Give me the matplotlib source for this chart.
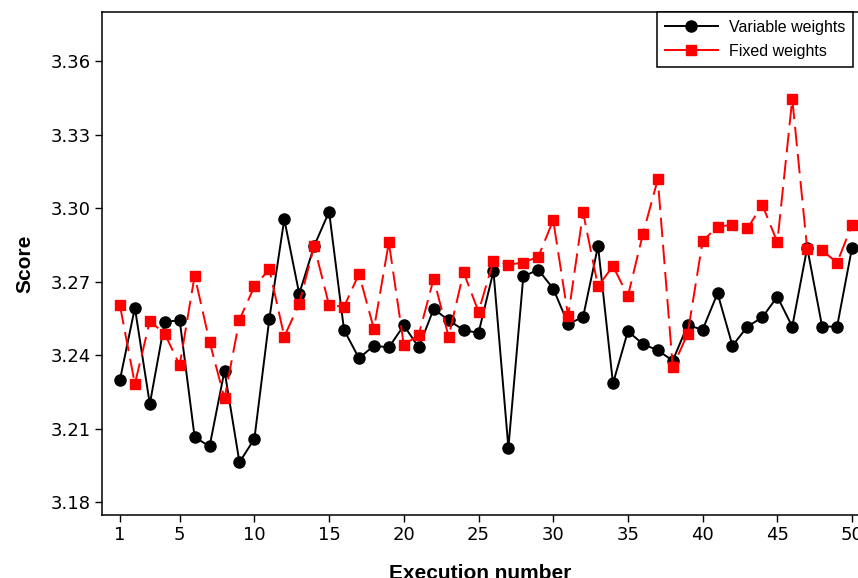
import matplotlib
matplotlib.use('Agg')
import matplotlib.pyplot as plt
from matplotlib.lines import Line2D

# execution numbers 1..50
runs = list(range(1, 51))

variable_w = [3.2298, 3.2593, 3.2200, 3.2535, 3.2542, 3.2065, 3.2027, 3.2336, 3.1962, 3.2058,
              3.2548, 3.2954, 3.2650, 3.2845, 3.2985, 3.2502, 3.2387, 3.2438, 3.2431, 3.2521,
              3.2431, 3.2588, 3.2542, 3.2502, 3.2490, 3.2742, 3.2022, 3.2721, 3.2748, 3.2671,
              3.2527, 3.2555, 3.2845, 3.2284, 3.2497, 3.2445, 3.2419, 3.2377, 3.2522, 3.2503,
              3.2652, 3.2438, 3.2516, 3.2554, 3.2638, 3.2516, 3.2838, 3.2516, 3.2516, 3.2838]

fixed_w = [3.2603, 3.2282, 3.2538, 3.2487, 3.2358, 3.2724, 3.2454, 3.2223, 3.2544, 3.2680,
           3.2750, 3.2475, 3.2609, 3.2845, 3.2603, 3.2597, 3.2731, 3.2506, 3.2860, 3.2441,
           3.2482, 3.2712, 3.2475, 3.2738, 3.2577, 3.2784, 3.2769, 3.2777, 3.2801, 3.2950,
           3.2558, 3.2982, 3.2680, 3.2763, 3.2641, 3.2893, 3.3117, 3.2351, 3.2487, 3.2865,
           3.2924, 3.2931, 3.2917, 3.3013, 3.2860, 3.3445, 3.2833, 3.2827, 3.2777, 3.2931]

xticks = [1, 5, 10, 15, 20, 25, 30, 35, 40, 45, 50]
yticks = [3.18, 3.21, 3.24, 3.27, 3.30, 3.33, 3.36]

fig = plt.figure(figsize=(8.58, 5.78), dpi=100)
ax = fig.add_axes([102/858, 63/578, 1 - 102/858, (515 - 12)/578])

ax.plot(runs, variable_w, color='black', lw=1.4, marker='o', markersize=8)
ax.plot(runs, fixed_w, color='red', lw=1.4, marker='s', markersize=6.5, dashes=(10, 4))

ax.set_xlim(-0.2, 50.4)
ax.set_ylim(3.1747, 3.38)
ax.set_xticks(xticks)
ax.set_yticks(yticks)
ax.set_yticklabels(['%.2f' % v for v in yticks])
ax.tick_params(direction='out', length=5, width=1, labelsize=13, pad=3)
ax.spines['right'].set_visible(False)
for s in ['left', 'bottom', 'top']:
    ax.spines[s].set_linewidth(1.1)

ax.set_xlabel('Execution number', fontsize=15, fontweight='bold', family='Liberation Sans', labelpad=14)
ax.set_ylabel('Score', fontsize=15, fontweight='bold', family='Liberation Sans', labelpad=12)

# legend drawn with solid lines like the original
handles = [Line2D([], [], color='black', lw=1.4, marker='o', markersize=8),
           Line2D([], [], color='red', lw=1.4, marker='s', markersize=6.5)]
leg = fig.legend(handles, ['Variable weights', 'Fixed weights'], loc='upper left',
                 bbox_to_anchor=(657/858, 1 - 12/578), borderaxespad=0,
                 prop={'family': 'Liberation Sans', 'size': 11.5}, fancybox=False,
                 framealpha=1, edgecolor='black', handlelength=3.3, handletextpad=0.7,
                 labelspacing=0.55, borderpad=0.5)
leg.get_frame().set_linewidth(1.1)

fig.savefig('out.png', dpi=100)
